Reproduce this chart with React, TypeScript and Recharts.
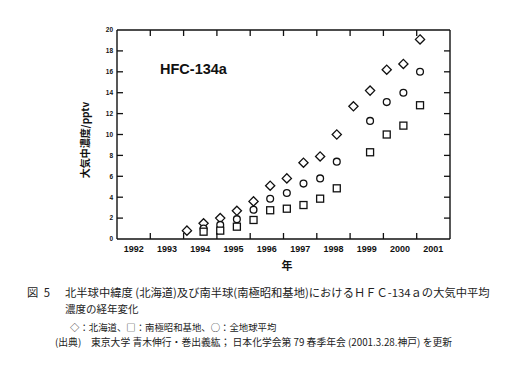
import React from 'react';
import { ScatterChart, Scatter, XAxis, YAxis, ReferenceLine } from 'recharts';

// Hokkaido (diamonds)
const hokkaidoYears = [1994.1, 1994.6, 1995.1, 1995.6, 1996.1, 1996.6, 1997.1, 1997.6, 1998.1, 1998.6, 1999.1, 1999.6, 2000.1, 2000.6, 2001.1];
const hokkaidoValues = [0.8, 1.5, 2.0, 2.7, 3.6, 5.1, 5.8, 7.3, 7.9, 10.0, 12.7, 14.2, 16.2, 16.75, 19.1];
// Syowa station (squares) and global mean (circles)
const southYears = [1994.6, 1995.1, 1995.6, 1996.1, 1996.6, 1997.1, 1997.6, 1998.1, 1998.6, 1999.6, 2000.1, 2000.6, 2001.1];
const syowaValues = [0.7, 0.8, 1.18, 1.82, 2.75, 2.9, 3.25, 3.86, 4.85, 8.3, 10.0, 10.85, 12.8];
const globalValues = [1.0, 1.35, 1.9, 2.8, 3.85, 4.4, 5.3, 5.8, 7.4, 11.3, 13.1, 14.0, 16.0];

const yearTickMarks = [1993, 1994, 1995, 1996, 1997, 1998, 1999, 2000, 2001];
const yearLabels = [1992, 1993, 1994, 1995, 1996, 1997, 1998, 1999, 2000, 2001];
const yTicks = [0, 2, 4, 6, 8, 10, 12, 14, 16, 18, 20];
const xDomain = [1992, 2002];
const yDomain = [0, 20];

const hokkaido = hokkaidoYears.map((x, i) => ({ x, y: hokkaidoValues[i] }));
const syowa = southYears.map((x, i) => ({ x, y: syowaValues[i] }));
const globalMean = southYears.map((x, i) => ({ x, y: globalValues[i] }));
const bottomTicks = [...yearTickMarks, ...yearLabels.map((y) => y + 0.5)].sort((a, b) => a - b);

const INK = '#111';
const TICK = 6;
const sans = '"Liberation Sans", Arial, sans-serif';
const cjk = '"Noto Sans CJK JP", sans-serif';

const Diamond = (p: any) => {
  const { cx, cy } = p;
  const r = 4.6;
  return <polygon points={`${cx},${cy - r} ${cx + r},${cy} ${cx},${cy + r} ${cx - r},${cy}`} fill="#fff" stroke={INK} strokeWidth={1.3} />;
};
const Circle = (p: any) => <circle cx={p.cx} cy={p.cy} r={3.4} fill="#fff" stroke={INK} strokeWidth={1.3} />;
const Square = (p: any) => <rect x={p.cx - 3.5} y={p.cy - 3.5} width={7} height={7} fill="#fff" stroke={INK} strokeWidth={1.3} />;

const BottomTick = (p: any) => {
  const { x, y, payload } = p;
  const v = payload.value;
  if (Number.isInteger(v)) {
    return <line x1={x} x2={x} y1={y} y2={y - TICK} stroke={INK} strokeWidth={1.3} />;
  }
  return (
    <text x={x} y={y + 12.5} textAnchor="middle" fontFamily={sans} fontWeight={700} fontSize={9} fill={INK}>
      {Math.floor(v)}
    </text>
  );
};
const TopTick = (p: any) => <line x1={p.x} x2={p.x} y1={p.y} y2={p.y + TICK} stroke={INK} strokeWidth={1.3} />;
const LeftTick = (p: any) => {
  const { x, y, payload } = p;
  const v = payload.value;
  return (
    <g>
      {v > 0 && v < 20 ? <line x1={x} x2={x + TICK} y1={y} y2={y} stroke={INK} strokeWidth={1.3} /> : null}
      <text x={x - 4} y={y + 2.3} textAnchor="end" fontFamily={sans} fontWeight={700} fontSize={6.5} fill={INK}>{v}</text>
    </g>
  );
};
const RightTick = (p: any) => {
  const v = p.payload.value;
  if (v <= 0 || v >= 20) return null;
  return <line x1={p.x} x2={p.x - TICK} y1={p.y} y2={p.y} stroke={INK} strokeWidth={1.3} />;
};

export default function App() {
  return (
    <div style={{ position: 'absolute', left: 0, top: 0, width: 514, height: 366, background: '#fff', overflow: 'hidden' }}>
      <ScatterChart width={514} height={366} margin={{ top: 29, right: 63, bottom: 107, left: 77 }}>
        <XAxis xAxisId="b" type="number" dataKey="x" domain={xDomain} ticks={bottomTicks} allowDataOverflow interval={0}
          height={20} tickSize={0} tickMargin={0} tickLine={false} axisLine={false} tick={<BottomTick />} />
        <XAxis xAxisId="t" orientation="top" type="number" dataKey="x" domain={xDomain} ticks={yearTickMarks} allowDataOverflow interval={0}
          height={1} tickSize={0} tickMargin={0} tickLine={false} axisLine={false} tick={<TopTick />} />
        <YAxis yAxisId="l" type="number" dataKey="y" domain={yDomain} ticks={yTicks} allowDataOverflow interval={0}
          width={40} tickSize={0} tickMargin={0} tickLine={false} axisLine={false} tick={<LeftTick />} />
        <YAxis yAxisId="r" orientation="right" type="number" dataKey="y" domain={yDomain} ticks={yTicks} allowDataOverflow interval={0}
          width={1} tickSize={0} tickMargin={0} tickLine={false} axisLine={false} tick={<RightTick />} />
        <ReferenceLine xAxisId="b" yAxisId="l" x={xDomain[0]} stroke={INK} strokeWidth={1.4} />
        <ReferenceLine xAxisId="b" yAxisId="l" x={xDomain[1]} stroke={INK} strokeWidth={1.4} />
        <ReferenceLine xAxisId="b" yAxisId="l" y={yDomain[0]} stroke={INK} strokeWidth={1.4} />
        <ReferenceLine xAxisId="b" yAxisId="l" y={yDomain[1]} stroke={INK} strokeWidth={1.4} />
        <Scatter name="北海道" data={hokkaido} xAxisId="b" yAxisId="l" shape={Diamond} isAnimationActive={false} />
        <Scatter name="全地球平均" data={globalMean} xAxisId="b" yAxisId="l" shape={Circle} isAnimationActive={false} />
        <Scatter name="南極昭和基地" data={syowa} xAxisId="b" yAxisId="l" shape={Square} isAnimationActive={false} />
      </ScatterChart>
      <svg width={514} height={366} style={{ position: 'absolute', left: 0, top: 0, pointerEvents: 'none' }}>
        <text x={160} y={74} fontFamily={sans} fontWeight={700} fontSize={14.5} fill={INK}>HFC-134a</text>
        <text x={0} y={0} transform="translate(89,140) rotate(-90)" textAnchor="middle" fontFamily={cjk} fontWeight={700} fontSize={10} fill={INK}>大気中濃度/pptv</text>
        <text x={287} y={270} textAnchor="middle" fontFamily={cjk} fontWeight={700} fontSize={11} fill={INK}>年</text>
      </svg>
      <div style={{ position: 'absolute', left: 0, top: 0, width: 514, height: 366, fontFamily: cjk, color: '#222', whiteSpace: 'nowrap' }}>
        <div style={{ position: 'absolute', left: 27, top: 285, fontSize: 11.3, lineHeight: '14px', wordSpacing: 3 }}>図 5</div>
        <div style={{ position: 'absolute', left: 65, top: 285, fontSize: 11.3, lineHeight: '14px' }}>北半球中緯度 (北海道)及び南半球(南極昭和基地)におけるＨＦＣ-134ａの大気中平均</div>
        <div style={{ position: 'absolute', left: 65, top: 302, fontSize: 10.5, lineHeight: '14px' }}>濃度の経年変化</div>
        <div style={{ position: 'absolute', left: 70, top: 321, fontSize: 9.4, lineHeight: '12px' }}>◇：北海道、□：南極昭和基地、○：全地球平均</div>
        <div style={{ position: 'absolute', left: 55, top: 336, fontSize: 9.8, lineHeight: '12px' }}>(出典)　東京大学 青木伸行・巻出義紘； 日本化学会第 79 春季年会 (2001.3.28.神戸) を更新</div>
      </div>
    </div>
  );
}
